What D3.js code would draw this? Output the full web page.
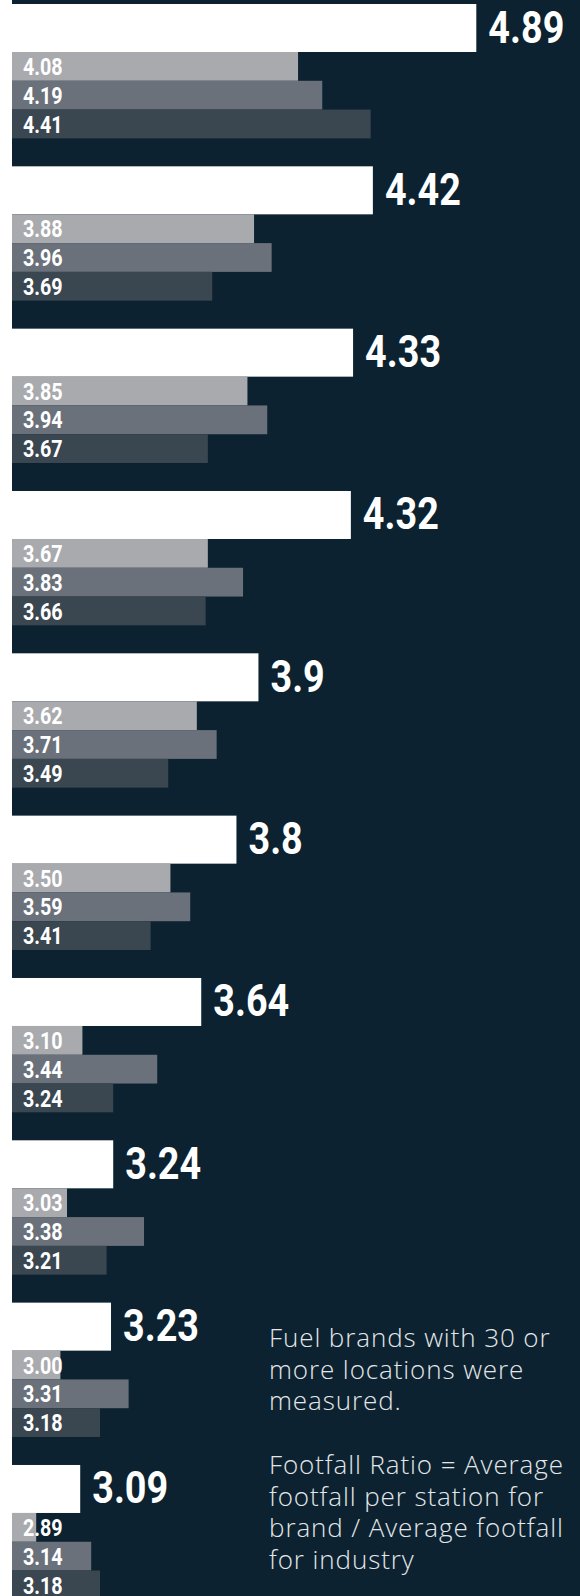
<!DOCTYPE html>
<html>
<head>
<meta charset="utf-8">
<script src="https://cdn.jsdelivr.net/npm/d3@7"></script>
<style>
  body { margin: 0; background: #ffffff; }
  svg { display: block; }
</style>
</head>
<body>
<script>
// footfall ratio per brand (white bar) and three sub-series (grey bars)
var ranks = d3.range(10);
var brandRatio = [4.89, 4.42, 4.33, 4.32, 3.9, 3.8, 3.64, 3.24, 3.23, 3.09];
var seriesA = [4.08, 3.88, 3.85, 3.67, 3.62, 3.50, 3.10, 3.03, 3.00, 2.89];
var seriesB = [4.19, 3.96, 3.94, 3.83, 3.71, 3.59, 3.44, 3.38, 3.31, 3.14];
var seriesC = [4.41, 3.69, 3.67, 3.66, 3.49, 3.41, 3.24, 3.21, 3.18, 3.18];
var seriesColors = ["#a9aaae", "#6a717b", "#3a4650"];
var noteLines = [
  "Fuel brands with 30 or",
  "more locations were",
  "measured.",
  "",
  "Footfall Ratio = Average",
  "footfall per station for",
  "brand / Average footfall",
  "for industry"
];

var width = 580;
var height = 1596;
var panelLeft = 12;
var narrow = 0.84;   // squeeze Roboto into a condensed look

var svg = d3.select("body")
            .append("svg")
            .attr("width", width)
            .attr("height", height);

svg.append("rect")
   .attr("x", panelLeft)
   .attr("y", 0)
   .attr("width", width - panelLeft)
   .attr("height", height)
   .attr("fill", "#0c2230");

var x = d3.scaleLinear()
          .domain([2.7255, 4.89])
          .range([0, 476.3]);

var y = d3.scaleBand()
          .domain(ranks)
          .range([4, 4 + 162.33 * ranks.length])
          .paddingInner(0)
          .paddingOuter(0);

var step = y.step();
var mainH = step * 0.2957;
var subH = step * 0.1773;

var groups = svg.selectAll("g.group")
                .data(ranks)
                .enter()
                .append("g")
                .attr("class", "group")
                .attr("transform", function(i) { return "translate(0," + y(i) + ")"; });

// white brand bar + big label
groups.append("rect")
      .attr("x", 0)
      .attr("y", 0)
      .attr("width", function(i) { return x(brandRatio[i]); })
      .attr("height", mainH)
      .attr("fill", "#ffffff");

groups.append("text")
      .attr("transform", function(i) {
        return "translate(" + (x(brandRatio[i]) + 12) + ",38.5) scale(" + narrow + ",1)";
      })
      .text(function(i) { return String(brandRatio[i]); })
      .attr("font-family", "Roboto, 'Liberation Sans', sans-serif")
      .attr("font-weight", "bold")
      .attr("font-size", "45px")
      .attr("fill", "#ffffff");

// grey sub-series bars
[seriesA, seriesB, seriesC].forEach(function(series, s) {
  groups.append("rect")
        .attr("x", panelLeft)
        .attr("y", mainH + s * subH)
        .attr("width", function(i) { return Math.max(0, x(series[i]) - panelLeft); })
        .attr("height", subH)
        .attr("fill", seriesColors[s]);

  groups.append("text")
        .attr("transform", "translate(23," + (mainH + s * subH + 23) + ") scale(" + narrow + ",1)")
        .text(function(i) { return series[i].toFixed(2); })
        .attr("font-family", "Roboto, 'Liberation Sans', sans-serif")
        .attr("font-weight", "bold")
        .attr("font-size", "23.5px")
        .attr("fill", "#ffffff");
});

// footnote, one text per line
svg.selectAll("text.note")
   .data(noteLines)
   .enter()
   .filter(function(d) { return d !== ""; })
   .append("text")
   .attr("class", "note")
   .attr("x", 269)
   .attr("y", function(d) { return 1347 + noteLines.indexOf(d) * 31.7; })
   .text(function(d) { return d; })
   .attr("font-family", "'Open Sans', sans-serif")
   .attr("font-weight", 300)
   .attr("font-size", "26px")
   .attr("letter-spacing", "0.9px")
   .attr("fill", "#e4e7e9");
</script>
</body>
</html>
